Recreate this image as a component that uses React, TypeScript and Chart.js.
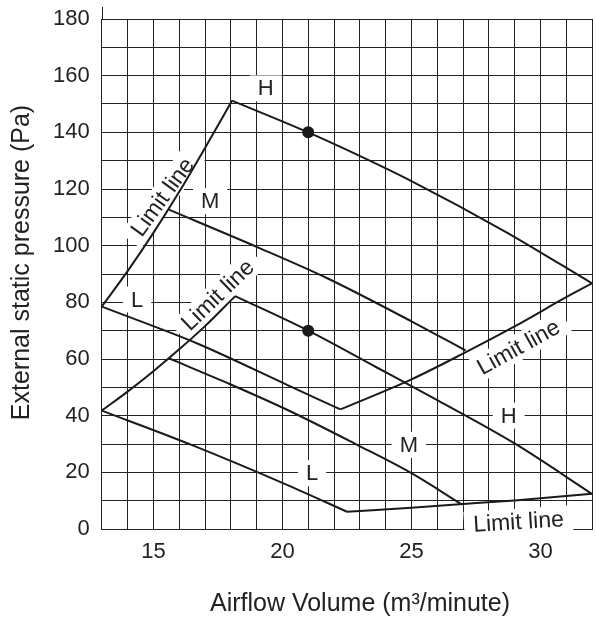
import React, { useEffect, useRef } from 'react';
import { Chart, registerables } from 'chart.js';

Chart.register(...registerables);

const FONT = "'Liberation Sans', Arial, Helvetica, sans-serif";

// Tick labels
const xTickLabels = [15, 20, 25, 30];
const yTickLabels = [0, 20, 40, 60, 80, 100, 120, 140, 160, 180];

// Upper group (x: m3/min, y: Pa)
const upperLimitLeft: [number, number][] = [[13, 78.5], [14, 91], [15, 104.5], [16, 119], [17, 134.5], [18.05, 151.2]];
const upperH: [number, number][] = [[18.05, 151.2], [21, 140], [22.5, 133.8], [25, 122.8], [28.65, 104.9], [32, 86.7]];
const upperM: [number, number][] = [[15.6, 112.7], [19, 99.6], [21.74, 88.5], [25, 73.3], [27.1, 63.0]];
const upperL: [number, number][] = [[13, 78.5], [15, 71.6], [16.77, 65.2], [20.2, 50.8], [22.25, 42.2]];
const upperLimitRight: [number, number][] = [[22.25, 42.2], [25, 52.8], [27, 61.9], [29, 71.5], [31, 81.8], [32, 86.7]];

// Lower group
const lowerLimitLeft: [number, number][] = [[13, 41.8], [14, 48.5], [15, 55.7], [16, 63.4], [17, 71.6], [18.17, 82.2]];
const lowerH: [number, number][] = [[18.17, 82.2], [21, 70], [23.66, 57], [26.02, 45.4], [29, 30.2], [32, 12.4]];
const lowerM: [number, number][] = [[15.61, 60.2], [18, 51], [20.2, 42], [22.9, 29.7], [25, 19.7], [26.95, 8.7]];
const lowerL: [number, number][] = [[13, 41.8], [16.5, 29.6], [20.2, 15.5], [22.5, 6.1]];
const lowerLimitBottom: [number, number][] = [[22.5, 6.1], [25, 7.5], [27, 8.8], [29, 10.1], [32, 12.4]];

// Rated points
const ratedPoints: [number, number][] = [[21, 140], [21, 70]];

// Text labels anchored in data coordinates
const curveLabels = [
  { text: 'H', x: 19.35, y: 155.5, angle: 0 },
  { text: 'M', x: 17.2, y: 115.7, angle: 0 },
  { text: 'L', x: 14.37, y: 81, angle: 0 },
  { text: 'H', x: 28.77, y: 40, angle: 0 },
  { text: 'M', x: 24.9, y: 29.7, angle: 0 },
  { text: 'L', x: 21.15, y: 19.7, angle: 0 },
];
const limitLabels = [
  { text: 'Limit line', x: 15.35, y: 117.2, angle: -54 },
  { text: 'Limit line', x: 17.49, y: 82.6, angle: -44 },
  { text: 'Limit line', x: 29.15, y: 64.2, angle: -29 },
  { text: 'Limit line', x: 29.15, y: 2.6, angle: -3.5 },
];

const xTitle = 'Airflow Volume (m\u00B3/minute)';
const yTitle = 'External static pressure (Pa)';

const curves = [
  upperLimitLeft, upperH, upperM, upperL, upperLimitRight,
  lowerLimitLeft, lowerH, lowerM, lowerL, lowerLimitBottom,
];

export default function App() {
  const ref = useRef<HTMLCanvasElement>(null);

  useEffect(() => {
    const canvas = ref.current;
    if (!canvas) return;

    const labelPlugin = {
      id: 'labelPlugin',
      beforeDatasetsDraw(chart: any) {
        const { ctx, scales } = chart;
        const xs = scales.x;
        const ys = scales.y;
        ctx.save();
        ctx.textAlign = 'center';
        ctx.textBaseline = 'middle';
        const all = [...curveLabels, ...limitLabels];
        for (const l of all) {
          const isLimit = l.text.length > 1;
          ctx.font = `${isLimit ? 23 : 22}px ${FONT}`;
          const px = xs.getPixelForValue(l.x);
          const py = ys.getPixelForValue(l.y);
          const pad = isLimit ? 9 : 8;
          const w = ctx.measureText(l.text).width + pad * 2;
          const h = 26;
          ctx.save();
          ctx.translate(px, py);
          ctx.rotate((l.angle * Math.PI) / 180);
          ctx.fillStyle = '#ffffff';
          ctx.fillRect(-w / 2, -h / 2, w, h);
          ctx.fillStyle = '#222222';
          ctx.fillText(l.text, 0, 1);
          ctx.restore();
        }
        ctx.restore();
      },
      afterDraw(chart: any) {
        const { ctx, chartArea } = chart;
        ctx.save();
        // small extension of the left axis line above the top grid line
        ctx.strokeStyle = '#222222';
        ctx.lineWidth = 1;
        const ax = Math.round(chartArea.left) + 0.5;
        ctx.beginPath();
        ctx.moveTo(ax, chartArea.top);
        ctx.lineTo(ax, chartArea.top - 12);
        ctx.stroke();

        ctx.fillStyle = '#222222';
        ctx.font = `25px ${FONT}`;
        ctx.textAlign = 'center';
        ctx.textBaseline = 'alphabetic';
        ctx.fillText(xTitle, 360, 611);
        ctx.translate(29, 262.5);
        ctx.rotate(-Math.PI / 2);
        ctx.fillText(yTitle, 0, 0);
        ctx.restore();
      },
    };

    const datasets: any[] = curves.map((c) => ({
      data: c.map(([x, y]) => ({ x, y })),
      showLine: true,
      borderColor: '#1a1a1a',
      borderWidth: 2,
      pointRadius: 0,
      pointHoverRadius: 0,
      cubicInterpolationMode: 'monotone',
      fill: false,
    }));
    datasets.push({
      data: ratedPoints.map(([x, y]) => ({ x, y })),
      showLine: false,
      pointRadius: 6,
      pointBackgroundColor: '#1a1a1a',
      pointBorderColor: '#1a1a1a',
      pointBorderWidth: 0,
    });

    const chart = new Chart(canvas, {
      type: 'scatter',
      data: { datasets },
      plugins: [labelPlugin],
      options: {
        animation: false,
        responsive: false,
        devicePixelRatio: 1,
        layout: { padding: { left: 0, top: 19, right: 0, bottom: 0 } },
        plugins: { legend: { display: false }, tooltip: { enabled: false } },
        scales: {
          x: {
            type: 'linear',
            min: 13,
            max: 32,
            afterFit: (s: any) => {
              s.height = 90;
              s.paddingLeft = 0;
              s.paddingRight = 0;
            },
            ticks: {
              stepSize: 1,
              autoSkip: false,
              maxRotation: 0,
              padding: 10,
              color: '#222222',
              font: { family: FONT, size: 22 },
              callback: (v: any) => (xTickLabels.includes(Number(v)) ? String(v) : ''),
            },
            grid: { color: '#222222', lineWidth: 1, drawTicks: false },
            border: { color: '#222222', width: 1 },
          },
          y: {
            type: 'linear',
            min: 0,
            max: 180,
            afterFit: (s: any) => {
              s.width = 101.8;
              s.paddingTop = 0;
              s.paddingBottom = 0;
            },
            ticks: {
              stepSize: 10,
              autoSkip: false,
              padding: 12,
              color: '#222222',
              font: { family: FONT, size: 22 },
              callback: (v: any) => (yTickLabels.includes(Number(v)) ? String(v) : ''),
            },
            grid: { color: '#222222', lineWidth: 1, drawTicks: false },
            border: { color: '#222222', width: 1 },
          },
        },
      },
    });

    return () => chart.destroy();
  }, []);

  return (
    <div style={{ position: 'fixed', left: 0, top: 0, width: 596, height: 619, overflow: 'hidden', background: '#ffffff' }}>
      <canvas ref={ref} width={598} height={619} style={{ display: 'block', width: 598, height: 619 }} />
    </div>
  );
}
